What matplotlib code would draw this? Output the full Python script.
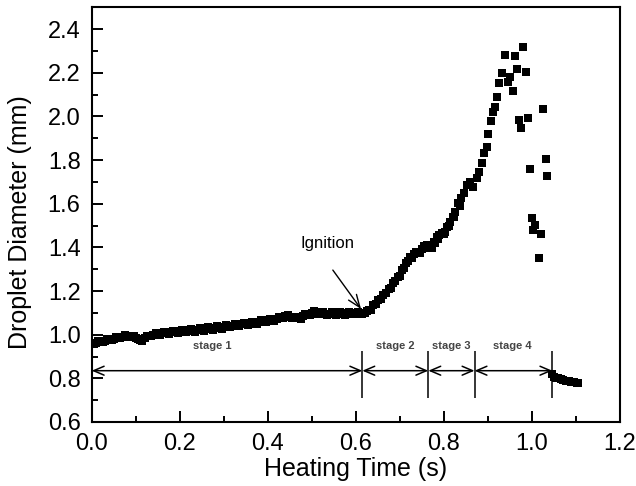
import matplotlib
matplotlib.use("Agg")
import matplotlib.pyplot as plt
from matplotlib.ticker import MultipleLocator

plt.rcParams['font.family'] = ['Liberation Sans', 'DejaVu Sans']

# ---- data ----
t_stage1 = [0.00, 0.01, 0.02, 0.03, 0.04, 0.05, 0.06, 0.07, 0.08, 0.09,
            0.10, 0.11, 0.12, 0.13, 0.14, 0.15, 0.16, 0.17, 0.18, 0.19,
            0.20, 0.21, 0.22, 0.23, 0.24, 0.25, 0.26, 0.27, 0.28, 0.29,
            0.30, 0.31, 0.32, 0.33, 0.34, 0.35, 0.36, 0.37, 0.38, 0.39,
            0.40, 0.41, 0.42, 0.43, 0.44, 0.45, 0.46, 0.47, 0.48, 0.49,
            0.50, 0.51, 0.52, 0.53, 0.54, 0.55, 0.56, 0.57, 0.58, 0.59,
            0.60, 0.61, 0.62]
d_stage1 = [0.962, 0.964, 0.968, 0.972, 0.978, 0.982, 0.986, 0.990, 0.993, 0.990,
            0.985, 0.975, 0.986, 0.995, 1.000, 1.003, 1.006, 1.009, 1.011, 1.013,
            1.016, 1.018, 1.020, 1.019, 1.022, 1.024, 1.027, 1.026, 1.030, 1.034,
            1.037, 1.040, 1.042, 1.044, 1.047, 1.048, 1.050, 1.054, 1.058, 1.062,
            1.066, 1.070, 1.074, 1.080, 1.085, 1.082, 1.076, 1.078, 1.086, 1.093,
            1.099, 1.103, 1.101, 1.096, 1.095, 1.097, 1.096, 1.098, 1.099, 1.097,
            1.099, 1.101, 1.100]

t_stage1b = [0.005, 0.015, 0.025, 0.035, 0.045, 0.055, 0.065, 0.075, 0.085, 0.095,
             0.105, 0.115, 0.125, 0.135, 0.145, 0.155, 0.165, 0.175, 0.185, 0.195,
             0.205, 0.215, 0.225, 0.235, 0.245, 0.255, 0.265, 0.275, 0.285, 0.295,
             0.305, 0.315, 0.325, 0.335, 0.345, 0.355, 0.365, 0.375, 0.385, 0.395,
             0.405, 0.415, 0.425, 0.435, 0.445, 0.455, 0.465, 0.475, 0.485, 0.495,
             0.505, 0.515, 0.525, 0.535, 0.545, 0.555, 0.565, 0.575, 0.585, 0.595,
             0.605, 0.615]
d_stage1b = [0.958, 0.972, 0.966, 0.981, 0.975, 0.990, 0.984, 0.997, 0.988, 0.994,
             0.978, 0.970, 0.995, 0.992, 1.008, 1.000, 1.013, 1.004, 1.018, 1.008,
             1.022, 1.012, 1.026, 1.014, 1.029, 1.019, 1.033, 1.021, 1.038, 1.028,
             1.045, 1.034, 1.049, 1.039, 1.054, 1.043, 1.057, 1.049, 1.066, 1.056,
             1.073, 1.064, 1.081, 1.076, 1.090, 1.076, 1.083, 1.073, 1.095, 1.088,
             1.108, 1.096, 1.106, 1.091, 1.102, 1.090, 1.104, 1.092, 1.105, 1.093,
             1.106, 1.096]

t_stage2 = [0.625, 0.630, 0.640, 0.650, 0.663, 0.675, 0.685, 0.695, 0.705, 0.715,
            0.723, 0.733, 0.742, 0.750, 0.755, 0.761, 0.767, 0.773, 0.778, 0.784,
            0.790, 0.797, 0.803, 0.808, 0.814, 0.820, 0.826, 0.833, 0.839, 0.845,
            0.852, 0.860, 0.867,
            0.635, 0.645, 0.657, 0.669, 0.680, 0.690, 0.700, 0.710, 0.719, 0.728,
            0.738, 0.746, 0.758, 0.770, 0.781, 0.787, 0.800, 0.811, 0.823, 0.836]
d_stage2 = [1.108, 1.115, 1.136, 1.158, 1.182, 1.208, 1.235, 1.265, 1.296, 1.328,
            1.357, 1.370, 1.380, 1.392, 1.405, 1.411, 1.400, 1.396, 1.425, 1.449,
            1.458, 1.466, 1.472, 1.495, 1.518, 1.540, 1.563, 1.602, 1.625, 1.648,
            1.686, 1.701, 1.678,
            1.112, 1.140, 1.162, 1.190, 1.212, 1.245, 1.270, 1.305, 1.336, 1.352,
            1.378, 1.372, 1.398, 1.410, 1.418, 1.440, 1.463, 1.500, 1.540, 1.590]

t_stage3 = [0.876, 0.881, 0.886, 0.892, 0.898, 0.901, 0.907, 0.911, 0.917, 0.922,
            0.926, 0.932, 0.939, 0.947, 0.951, 0.957, 0.962, 0.966, 0.971, 0.976,
            0.981, 0.987, 0.992, 0.996, 1.001, 1.004, 1.008, 1.017, 1.021, 1.026,
            1.033, 1.035]
d_stage3 = [1.716, 1.747, 1.788, 1.834, 1.858, 1.918, 1.980, 2.021, 2.044, 2.087,
            2.154, 2.200, 2.281, 2.159, 2.182, 2.118, 2.277, 2.216, 1.983, 1.945,
            2.319, 2.202, 1.991, 1.758, 1.533, 1.479, 1.502, 1.350, 1.461, 2.032,
            1.803, 1.727]

t_stage4 = [1.045, 1.050, 1.055, 1.060, 1.066, 1.072, 1.078, 1.084, 1.090, 1.096, 1.102, 1.106]
d_stage4 = [0.818, 0.808, 0.802, 0.800, 0.797, 0.794, 0.790, 0.788, 0.785, 0.782, 0.780, 0.780]

stage_bounds = [0.0, 0.615, 0.765, 0.870, 1.047]
stage_labels = ["stage 1", "stage 2", "stage 3", "stage 4"]
stage_label_x = [0.275, 0.689, 0.817, 0.955]

x_ticks = [0.0, 0.2, 0.4, 0.6, 0.8, 1.0, 1.2]
y_ticks = [0.6, 0.8, 1.0, 1.2, 1.4, 1.6, 1.8, 2.0, 2.2, 2.4]

# ---- figure ----
fig = plt.figure(figsize=(6.36, 4.86), dpi=100)
ax = fig.add_axes([0.1442, 0.1317, 0.8302, 0.8533])

t_all = t_stage1 + t_stage1b + t_stage2 + t_stage3 + t_stage4
d_all = d_stage1 + d_stage1b + d_stage2 + d_stage3 + d_stage4
ax.plot(t_all, d_all, linestyle='none', marker='s', markersize=5.2,
        color='black', markeredgewidth=0)

ax.set_xlim(0, 1.2)
ax.set_ylim(0.6, 2.5)
ax.set_xticks(x_ticks)
ax.set_yticks(y_ticks)
ax.set_xticklabels([f"{v:.1f}" for v in x_ticks])
ax.set_yticklabels([f"{v:.1f}" for v in y_ticks])
ax.xaxis.set_minor_locator(MultipleLocator(0.1))
ax.yaxis.set_minor_locator(MultipleLocator(0.1))
ax.tick_params(which='major', direction='in', length=8, width=1.4,
               labelsize=17, pad=8, top=False, right=False)
ax.tick_params(which='minor', direction='in', length=4.5, width=1.4,
               top=False, right=False)
for s in ax.spines.values():
    s.set_linewidth(1.5)

ax.set_xlabel("Heating Time (s)", fontsize=18)
ax.set_ylabel("Droplet Diameter (mm)", fontsize=18)
ax.xaxis.set_label_coords(0.5, -0.085)
ax.yaxis.set_label_coords(-0.113, 0.482)

# stage arrows
y_arrow = 0.835
for a, b in zip(stage_bounds[:-1], stage_bounds[1:]):
    ax.annotate('', xy=(b, y_arrow), xytext=(a, y_arrow),
                arrowprops=dict(arrowstyle='<->,head_length=0.75,head_width=0.32',
                                color='black', lw=1.1, shrinkA=0, shrinkB=0,
                                mutation_scale=10))
ax.vlines(stage_bounds[1:], 0.71, 0.925, color='black', lw=1.1)

for lbl, xl in zip(stage_labels, stage_label_x):
    ax.text(xl, 0.948, lbl, fontsize=8, fontweight='bold', color='#444444',
            ha='center', va='center')

# ignition annotation
ax.text(0.535, 1.42, "Ignition", fontsize=12, ha='center', va='center')
ax.annotate('', xy=(0.612, 1.118), xytext=(0.548, 1.296),
            arrowprops=dict(arrowstyle='->,head_length=0.9,head_width=0.35',
                            color='black', lw=1.0, shrinkA=0, shrinkB=0,
                            mutation_scale=10))

fig.savefig("out.png", dpi=100)
